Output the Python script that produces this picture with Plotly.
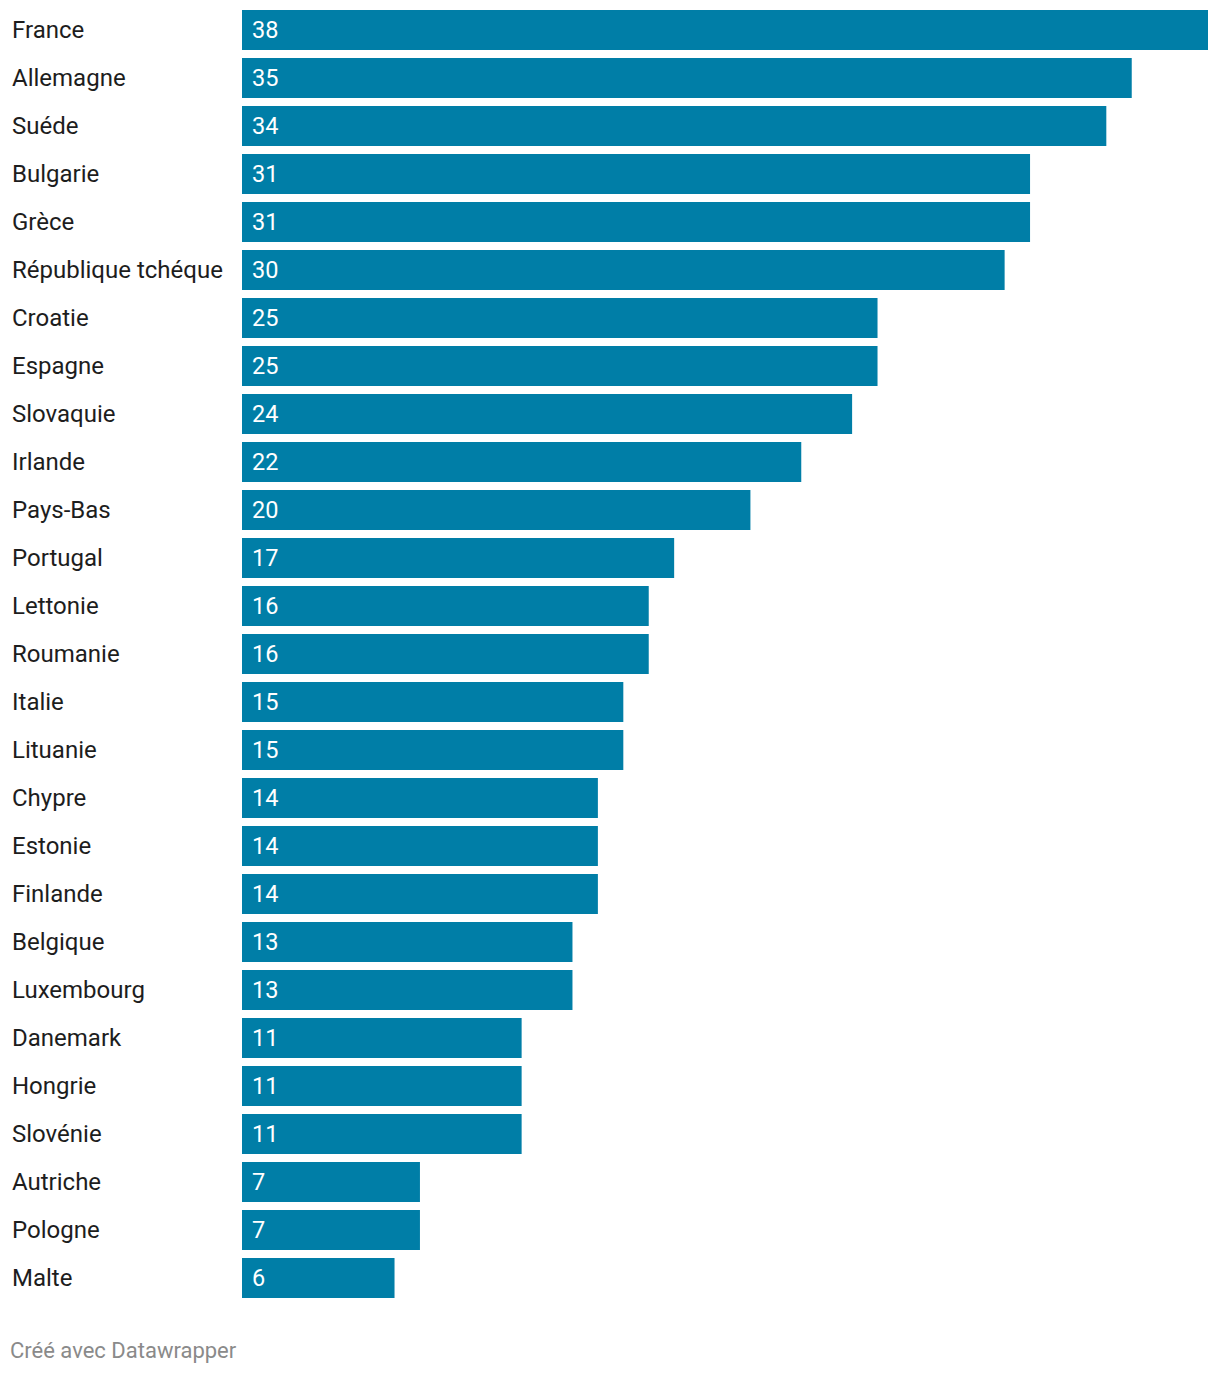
import plotly.graph_objects as go

countries = ["France", "Allemagne", "Suéde", "Bulgarie", "Grèce", "République tchéque",
             "Croatie", "Espagne", "Slovaquie", "Irlande", "Pays-Bas", "Portugal",
             "Lettonie", "Roumanie", "Italie", "Lituanie", "Chypre", "Estonie",
             "Finlande", "Belgique", "Luxembourg", "Danemark", "Hongrie", "Slovénie",
             "Autriche", "Pologne", "Malte"]
values = [38, 35, 34, 31, 31, 30, 25, 25, 24, 22, 20, 17, 16, 16, 15, 15, 14, 14,
          14, 13, 13, 11, 11, 11, 7, 7, 6]
footer = "Créé avec Datawrapper"

W, H = 1204, 1358
L, R, T, B = 234, 4, 0, 64
font = "Roboto, 'Open Sans', sans-serif"
n = len(countries)
plot_h = H - T - B
row_px = 48

fig = go.Figure(go.Bar(
    x=values, y=countries, orientation="h",
    marker=dict(color="#007ea7", line=dict(width=0)),
    hoverinfo="skip",
))

plot_w = W - L - R
ann = []
for c, v in zip(countries, values):
    ann.append(dict(x=-(L - 2) / plot_w, xref="paper", y=c, yref="y",
                    text=c, showarrow=False, xanchor="left", yanchor="middle",
                    font=dict(family=font, size=24, color="#1d1d1d")))
    ann.append(dict(x=0, xref="x", y=c, yref="y", xshift=8,
                    text=str(v), showarrow=False, xanchor="left", yanchor="middle",
                    font=dict(family=font, size=23.5, color="#ffffff")))
ann.append(dict(x=-(L - 0) / plot_w, xref="paper", y=0, yref="paper", yshift=-48,
                text=footer, showarrow=False, xanchor="left", yanchor="middle",
                font=dict(family=font, size=22, color="#8a8a8a")))

y_bottom = n - 0.5
y_top = y_bottom - plot_h / row_px

fig.update_layout(
    width=W, height=H, autosize=False,
    margin=dict(l=L, r=R, t=T, b=B, pad=0),
    paper_bgcolor="white", plot_bgcolor="white",
    bargap=8 / 48,
    showlegend=False,
    xaxis=dict(range=[0, 38], visible=False, fixedrange=True),
    yaxis=dict(range=[y_bottom, y_top], visible=False, fixedrange=True,
               categoryorder="array", categoryarray=countries),
    annotations=ann,
)

fig.write_html("out.html")
